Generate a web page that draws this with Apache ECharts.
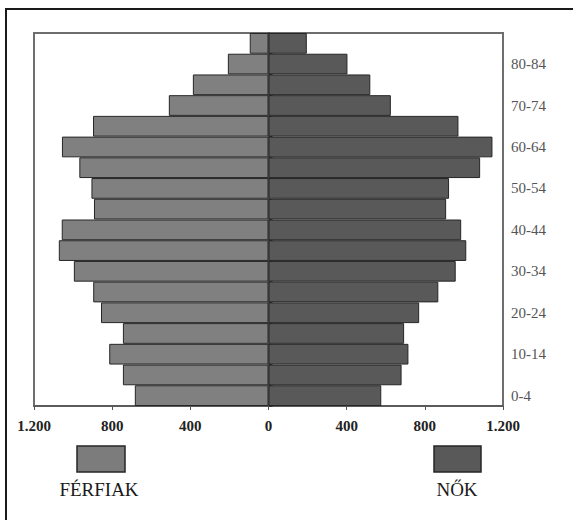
<!DOCTYPE html>
<html>
<head>
<meta charset="utf-8">
<script src="https://cdn.jsdelivr.net/npm/echarts@6/dist/echarts.min.js"></script>
<style>html,body{margin:0;padding:0;background:#fff}#c{width:573px;height:520px}</style>
</head>
<body>
<div id="c"></div>
<script>
const ageGroups = ['0-4','5-9','10-14','15-19','20-24','25-29','30-34','35-39','40-44','45-49','50-54','55-59','60-64','65-69','70-74','75-79','80-84','85+'];
const men   = [684, 745, 815, 745, 857, 897, 996, 1073, 1058, 893, 906, 968, 1057, 898, 510, 387, 208, 96];
const women = [577, 681, 716, 694, 771, 869, 958, 1012, 986, 909, 924, 1083, 1146, 972, 626, 521, 404, 196];
const xTicks = [-1200, -800, -400, 0, 400, 800, 1200];
const seriesNames = ['FÉRFIAK', 'NŐK'];

const serif = 'Liberation Serif';
const chart = echarts.init(document.getElementById('c'), null, {renderer: 'svg'});
chart.setOption({
  animation: false,
  backgroundColor: '#fff',
  textStyle: {fontFamily: serif},
  grid: {left: 34, top: 33, right: 70, bottom: 114, show: true, borderColor: '#6e6e6e', borderWidth: 2, containLabel: false},
  xAxis: {
    type: 'value', min: xTicks[0], max: xTicks[xTicks.length - 1], interval: 400,
    splitLine: {show: false},
    axisLine: {show: true, lineStyle: {color: '#555', width: 1.5}},
    axisTick: {show: true, length: 4, lineStyle: {color: '#555'}},
    axisLabel: {
      margin: 12, fontFamily: serif, fontSize: 15, fontWeight: 'bold', color: '#222',
      formatter: v => { const a = Math.abs(v); return a >= 1000 ? Math.floor(a/1000) + '.' + String(a % 1000).padStart(3,'0') : String(a); }
    }
  },
  yAxis: {
    type: 'category', data: ageGroups, position: 'right',
    axisLine: {show: true, lineStyle: {color: '#333', width: 1.5}},
    axisTick: {show: true, length: 4, interval: 0, lineStyle: {color: '#333'}},
    axisLabel: {interval: 1, margin: 8, fontFamily: serif, fontSize: 15, color: '#555'},
    splitLine: {show: false}
  },
  series: [
    {name: seriesNames[0], type: 'bar', data: men.map(v => -v), barCategoryGap: '0%', barGap: '-100%',
     itemStyle: {color: '#808080', borderColor: '#262626', borderWidth: 1}},
    {name: seriesNames[1], type: 'bar', data: women, barCategoryGap: '0%', barGap: '-100%',
     itemStyle: {color: '#595959', borderColor: '#262626', borderWidth: 1}}
  ],
  graphic: [
    {type: 'rect', shape: {x: 6, y: 9, width: 640, height: 640}, style: {fill: 'none', stroke: '#1a1a1a', lineWidth: 2}, silent: true},
    {type: 'rect', shape: {x: 77, y: 446, width: 48, height: 26}, style: {fill: '#7c7c7c', stroke: '#262626', lineWidth: 1.5}},
    {type: 'text', x: 99, y: 489, style: {text: seriesNames[0], fontFamily: serif, fontSize: 19, fill: '#1a1a1a', align: 'center', verticalAlign: 'middle'}},
    {type: 'rect', shape: {x: 434, y: 446, width: 47, height: 26}, style: {fill: '#595959', stroke: '#262626', lineWidth: 1.5}},
    {type: 'text', x: 457, y: 489, style: {text: seriesNames[1], fontFamily: serif, fontSize: 19, fill: '#1a1a1a', align: 'center', verticalAlign: 'middle'}}
  ]
});
</script>
</body>
</html>
